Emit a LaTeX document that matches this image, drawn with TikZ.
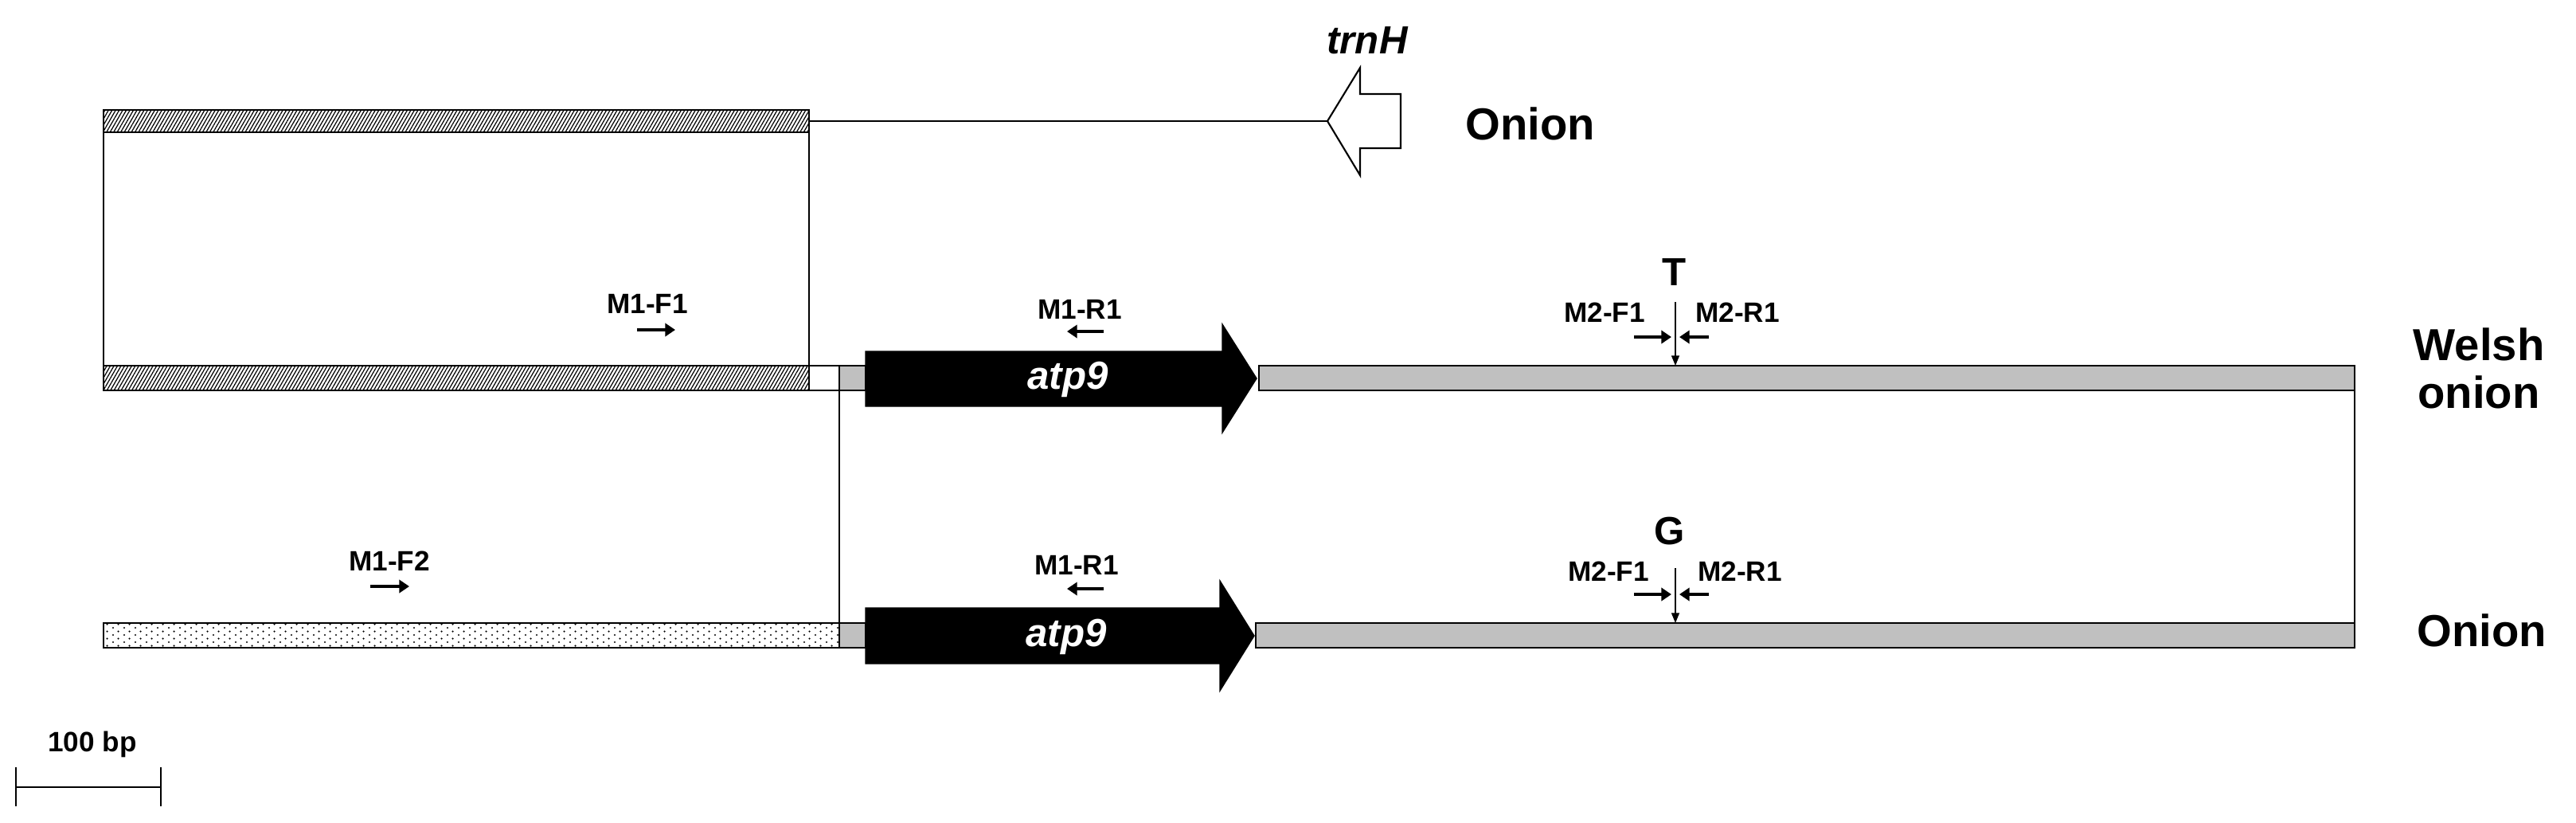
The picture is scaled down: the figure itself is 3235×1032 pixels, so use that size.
\documentclass[tikz,border=0pt]{standalone}
\usepackage{fontspec}
\setmainfont{Liberation Sans}
\usetikzlibrary{patterns,patterns.meta,arrows.meta}
\definecolor{barGray}{HTML}{C0C0C0}
\pgfdeclarepatternformonly{stagdots}{\pgfqpoint{0pt}{0pt}}{\pgfqpoint{4pt}{2.66pt}}{\pgfqpoint{4pt}{2.66pt}}{%
  \pgfpathcircle{\pgfqpoint{0.6pt}{0.6pt}}{0.36pt}%
  \pgfpathcircle{\pgfqpoint{2.6pt}{1.93pt}}{0.36pt}%
  \pgfusepath{fill}}
\begin{document}
\begin{tikzpicture}[x=0.01cm,y=-0.01cm,
  bar/.style={draw=black,line width=0.8pt},
  hatchbar/.style={bar,pattern={Lines[angle=60,distance=1.1pt,line width=0.35pt]}},
  dotbar/.style={bar,pattern=stagdots},
  graybar/.style={bar,fill=barGray},
  conn/.style={draw=black,line width=0.5pt},
  primer/.style={line width=1.3pt,-{Triangle[length=3.6pt,width=4.6pt]}},
  snp/.style={line width=0.5pt,-{Triangle[length=3.6pt,width=2.8pt]}},
  lbl/.style={font=\fontsize{10}{12}\selectfont\bfseries,anchor=base,inner sep=0pt},
  base/.style={font=\fontsize{14}{16}\selectfont\bfseries,anchor=base,inner sep=0pt},
  org/.style={font=\fontsize{16}{17}\selectfont\bfseries,align=center,inner sep=0pt},
  gene/.style={font=\fontsize{14}{16}\selectfont\bfseries\itshape,inner sep=0pt},
  genearrow/.style={fill=black}]
\useasboundingbox (0,0) rectangle (3235,1032);

% ---------- coordinates ----------
\coordinate (tbA) at (130,138);  \coordinate (tbB) at (1016,166);
\coordinate (whA) at (130,459);  \coordinate (whB) at (1016,490);
\coordinate (wwB) at (1054,490);
\coordinate (wgA) at (1054,459); \coordinate (wgB) at (1087,490);
\coordinate (wrA) at (1581,459); \coordinate (wrB) at (2957,490);
\coordinate (odA) at (130,782);  \coordinate (odB) at (1054,813);
\coordinate (ogA) at (1054,782); \coordinate (ogB) at (1087,813);
\coordinate (orA) at (1577,782); \coordinate (orB) at (2957,813);

% ---------- top (onion, trnH) ----------
\draw[hatchbar] (tbA) rectangle (tbB);
\coordinate (tbR) at (1016,152);
\draw[conn,fill=white,line width=0.6pt] (1667,152) coordinate (trnTip) -- (1708,85) -- (1708,118) -- (1759,118)
   -- (1759,186) -- (1708,186) -- (1708,220) -- cycle;
\draw[conn] (tbR) -- (trnTip);
\node[gene,anchor=base] (trnH) at (1717,67) {trnH};
\node[org] (onionTop) at (1922,155) {Onion};

% box between top bar and Welsh bar
\draw[conn] (tbA |- tbB) -- (whA);
\draw[conn] (tbB) -- (tbB |- whA);

% ---------- Welsh onion row ----------
\draw[bar,fill=white] (whA) rectangle (wwB);
\draw[hatchbar] (whA) rectangle (whB);
\draw[graybar] (wgA) rectangle (wgB);
\draw[genearrow] (1087,441) -- (1535,441) -- (1535,407) -- (1578,475) -- (1535,543) -- (1535,510) -- (1087,510) -- cycle;
\node[gene,text=white] (atpW) at (1341,476) {atp9};
\draw[graybar] (wrA) rectangle (wrB);
\node[org] (welsh) at (3113,462) {Welsh\\onion};

\node[lbl] (m1f1) at (813,393) {M1-F1};
\coordinate (m1f1a) at (800,414); \coordinate (m1f1b) at (848,414);
\draw[primer] (m1f1a) -- (m1f1b);
\node[lbl] (m1r1w) at (1356,400) {M1-R1};
\coordinate (m1r1wa) at (1386,416); \coordinate (m1r1wb) at (1340,416);
\draw[primer] (m1r1wa) -- (m1r1wb);
\node[lbl] (m2f1w) at (2015,404) {M2-F1};
\node[lbl] (m2r1w) at (2182,404) {M2-R1};
\coordinate (m2fwa) at (2052,423); \coordinate (m2fwb) at (2099,423);
\coordinate (m2rwa) at (2146,423); \coordinate (m2rwb) at (2109,423);
\draw[primer] (m2fwa) -- (m2fwb);
\draw[primer] (m2rwa) -- (m2rwb);
\node[base] (snpT) at (2103,358) {T};
\coordinate (snpTa) at (2104,379);
\draw[snp] (snpTa) -- (snpTa |- wrA);

% connectors Welsh -> Onion
\draw[conn] (wwB) -- (wwB |- odA);
\draw[conn] (wrB) -- (wrB |- orA);

% ---------- Onion row ----------
\draw[dotbar] (odA) rectangle (odB);
\draw[graybar] (ogA) rectangle (ogB);
\draw[genearrow] (1087,763) -- (1532,763) -- (1532,729) -- (1575,798) -- (1532,867) -- (1532,833) -- (1087,833) -- cycle;
\node[gene,text=white] (atpO) at (1339,799) {atp9};
\draw[graybar] (orA) rectangle (orB);
\node[org] (onionBot) at (3117,791) {Onion};

\node[lbl] (m1f2) at (489,716) {M1-F2};
\coordinate (m1f2a) at (465,736); \coordinate (m1f2b) at (514,736);
\draw[primer] (m1f2a) -- (m1f2b);
\node[lbl] (m1r1o) at (1352,721) {M1-R1};
\coordinate (m1r1oa) at (1386,739); \coordinate (m1r1ob) at (1340,739);
\draw[primer] (m1r1oa) -- (m1r1ob);
\node[lbl] (m2f1o) at (2020,729) {M2-F1};
\node[lbl] (m2r1o) at (2185,729) {M2-R1};
\coordinate (m2foa) at (2052,746); \coordinate (m2fob) at (2099,746);
\coordinate (m2roa) at (2146,746); \coordinate (m2rob) at (2109,746);
\draw[primer] (m2foa) -- (m2fob);
\draw[primer] (m2roa) -- (m2rob);
\node[base] (snpG) at (2097,683) {G};
\coordinate (snpGa) at (2104,713);
\draw[snp] (snpGa) -- (snpGa |- orA);

% ---------- scale bar ----------
\node[lbl] (scale) at (116,943) {100 bp};
\coordinate (sbL) at (20,988); \coordinate (sbR) at (202,988);
\draw[line width=0.7pt] (sbL) -- (sbR);
\draw[line width=0.7pt] (20,963) -- (20,1012);
\draw[line width=0.7pt] (202,963) -- (202,1012);
\end{tikzpicture}
\end{document}
